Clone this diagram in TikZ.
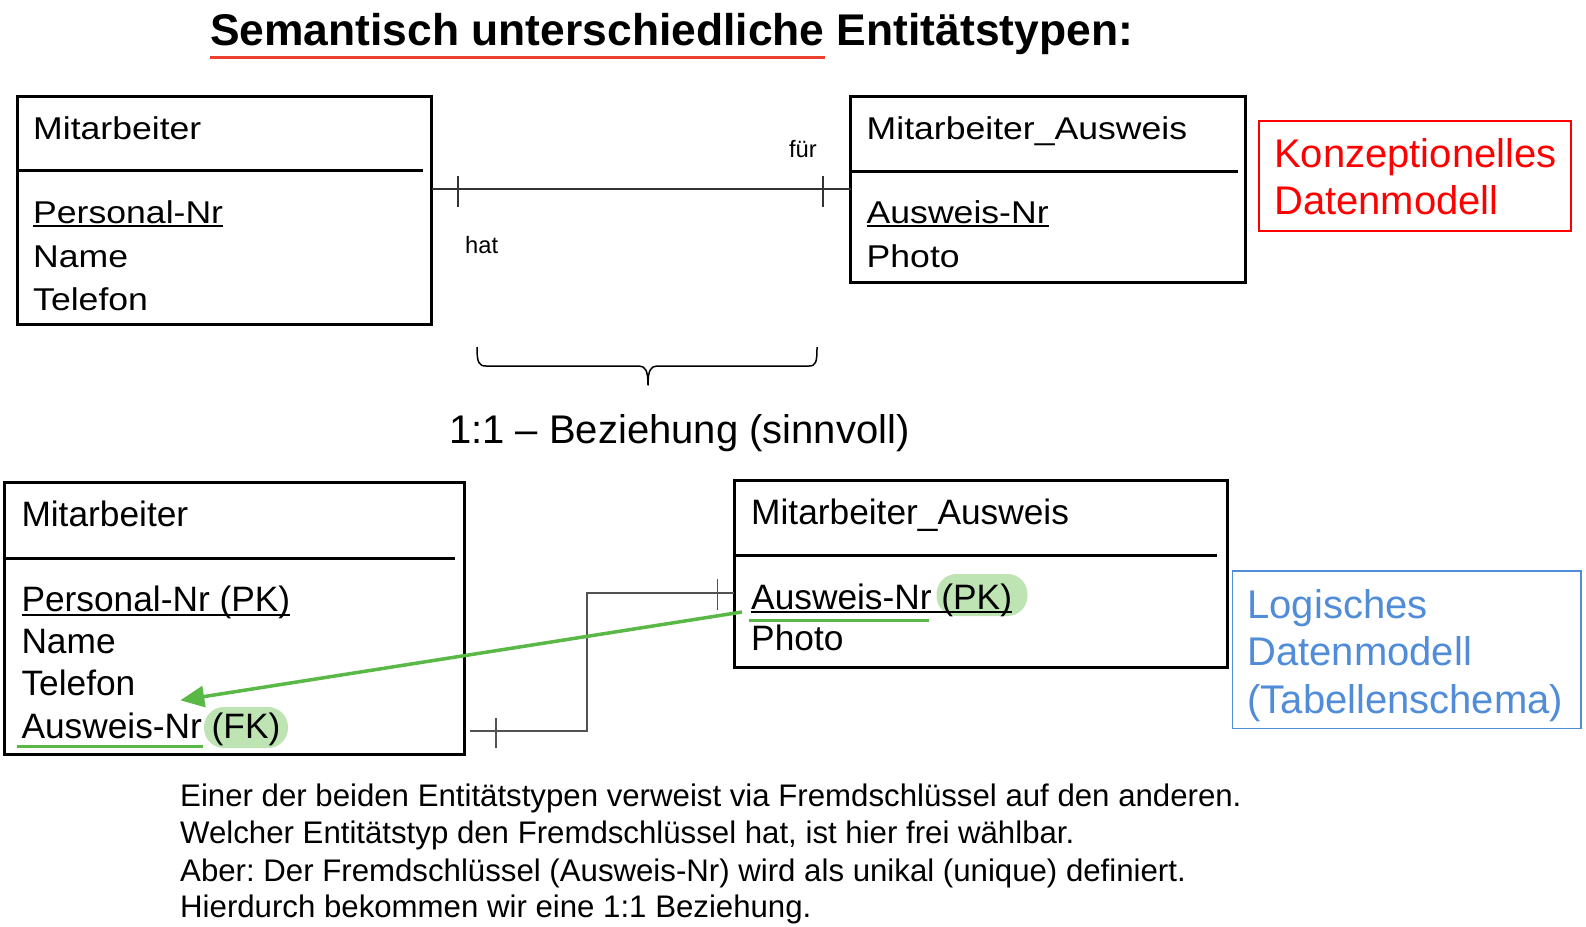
\documentclass[tikz,border=0pt]{standalone}
\usepackage{fontspec}
\setmainfont{Liberation Sans}
\newfontfamily\widefont{Liberation Sans}[FakeStretch=1.13]
\usetikzlibrary{arrows.meta,calc}

\definecolor{titlered}{RGB}{236,64,48}
\definecolor{labelred}{RGB}{255,0,0}
\definecolor{labelblue}{RGB}{80,140,215}
\definecolor{keygreen}{RGB}{90,185,70}
\definecolor{pillgreen}{RGB}{190,228,180}

% underline for key attributes, just below the baseline
\newcommand\keyul[1]{\setbox0\hbox{#1}\rlap{\rule[-3.8pt]{\wd0}{2pt}}\box0\relax}
% red underline in the heading
\newcommand\headul[1]{\setbox0\hbox{#1}\rlap{\color{titlered}\rule[-13pt]{\wd0}{3pt}}\box0\relax}

\begin{document}
\frenchspacing
\begin{tikzpicture}[x=1pt,y=-1pt,
  entity/.style={draw, line width=3pt, inner sep=0pt, outer sep=0pt, anchor=north west},
  divider/.style={line width=3pt},
  toptxt/.style={anchor=base west, inner sep=0pt, font=\widefont\fontsize{31.5}{38}\selectfont},
  lowtxt/.style={anchor=base west, inner sep=0pt, font=\fontsize{35.3}{42}\selectfont},
  roletxt/.style={inner sep=0pt, font=\fontsize{23.7}{28}\selectfont},
  conn/.style={draw=black!80, line width=1.4pt},
  link/.style={draw=black!68, line width=1.4pt},
  pill/.style={fill=pillgreen, draw=none, rounded corners=20pt, inner sep=0pt},
  fkarrow/.style={draw=keygreen, line width=3.5pt, -{Triangle[length=24pt,width=21pt]}},
  greenul/.style={draw=keygreen, line width=3pt},
  modelbox/.style={line width=1.5pt, inner sep=0pt, anchor=north west},
  modeltxt/.style={anchor=base west, inner sep=0pt, font=\fontsize{40}{47}\selectfont},
  notetxt/.style={anchor=base west, inner sep=0pt, font=\fontsize{31.2}{37}\selectfont}
]
\fill[white] (0,0) rectangle (1586,926);
\useasboundingbox (0,0) rectangle (1586,926);

% heading
\node[anchor=base west, inner sep=0pt, font=\bfseries\fontsize{44.4}{52}\selectfont] (head) at (210,45.7)
  {\headul{Semantisch unterschiedliche} Entitätstypen:};

% ---------- conceptual model ----------
\node[entity, minimum width=414, minimum height=228] (ma) at (17.5,96.5) {};
\draw[divider] (ma.north west) ++(0,74.2) -- ++(405.5,0);
\node[toptxt] (maname) at (33,139) {Mitarbeiter};
\node[toptxt] (mapk) at (33,223) {\keyul{Personal-Nr}};
\node[toptxt] (maname2) at (33,267) {Name};
\node[toptxt] (matel) at (33,310) {Telefon};

\node[entity, minimum width=395, minimum height=186] (mau) at (850.5,96.5) {};
\draw[divider] (mau.north west) ++(0,74.5) -- ++(387.5,0);
\node[toptxt] (mauname) at (866.5,139) {Mitarbeiter\_Ausweis};
\node[toptxt] (maupk) at (866.5,223) {\keyul{Ausweis-Nr}};
\node[toptxt] (mauphoto) at (866.5,267) {Photo};

% 1:1 relationship line with bars
\draw[conn] (ma.north east) ++(0,92.5) coordinate (r1) -- (r1 -| mau.west) coordinate (r2);
\draw[conn] ($(r1)+(26.5,-13)$) -- ++(0,31);
\draw[conn] ($(r2)+(-27.5,-13)$) -- ++(0,31);
\node[roletxt, anchor=base west] (hat) at (465,253) {hat};
\node[roletxt, anchor=base east] (fuer) at (817,157) {für};

% brace and caption
\draw[line width=1.5pt, line join=round]
  (477,347) .. controls (477,362) and (478.5,366) .. (486,366) -- (639,366)
  .. controls (645.5,366) and (648,371) .. (648,385)
  .. controls (648,371) and (650.5,366) .. (657,366) -- (809,366)
  .. controls (816,366) and (817,362) .. (817,347);
\node[anchor=base west, inner sep=0pt, font=\fontsize{40}{47}\selectfont] (card) at (449,443)
  {1:1 – Beziehung (sinnvoll)};

% conceptual label
\node[modelbox, draw=labelred, minimum width=312, minimum height=110] (konz) at (1258,120) {};
\node[modeltxt, text=labelred] (konz1) at (1274,167) {Konzeptionelles};
\node[modeltxt, text=labelred] (konz2) at (1274,214) {Datenmodell};

% ---------- logical model ----------
\node[entity, minimum width=460, minimum height=271.5] (ml) at (4.5,482.5) {};
\draw[divider] (ml.north west) ++(0,75.8) -- ++(450.5,0);
\node[pill, minimum width=84, minimum height=41] (fkpill) at (246,727.5) {};
\node[lowtxt] (mlname) at (21.3,526) {Mitarbeiter};
\node[lowtxt] (mlpk) at (21.3,611.7) {\keyul{Personal-Nr (PK)}};
\node[lowtxt] (mlname2) at (21.3,653.3) {Name};
\node[lowtxt] (mltel) at (21.3,695) {Telefon};
\node[lowtxt] (mlfk) at (21.3,738.3) {Ausweis-Nr (FK)};
\draw[greenul] ($(mlfk.base west)+(-4,7.7)$) -- ++(186,0);

\node[entity, minimum width=493, minimum height=187] (mal) at (734.2,480) {};
\draw[divider] (mal.north west) ++(0,75) -- ++(482.5,0);
\node[pill, minimum width=91, minimum height=42] (pkpill) at (982,595) {};
\node[lowtxt] (malname) at (751,524) {Mitarbeiter\_Ausweis};
\node[lowtxt] (malpk) at (751,609) {\keyul{Ausweis-Nr (PK)}};
\node[lowtxt] (malphoto) at (751,650) {Photo};
\draw[greenul] ($(malpk.base west)+(-2,11.7)$) -- ++(180,0);

% foreign key reference
\coordinate (b1) at ($(ml.north east)+(5.5,248.5)$);
\coordinate (b2) at ($(mal.north west)+(0,113)$);
\draw[link] (b1) -- ++(117,0) |- (b2);
\draw[link] ($(b1)+(26,-13)$) -- ++(0,30);
\draw[link] ($(b2)+(-17,-14)$) -- ++(0,31);

\coordinate (pkfrom) at ($(malpk.base west)+(-9,3)$);
\coordinate (fkto) at ($(mlfk.base west)+(159,-38)$);
\draw[fkarrow] (pkfrom) -- (fkto);

% logical label
\node[modelbox, draw=labelblue, minimum width=348.6, minimum height=157.4] (logi) at (1231.7,570.2) {};
\node[modeltxt, text=labelblue] (logi1) at (1247.2,618) {Logisches};
\node[modeltxt, text=labelblue] (logi2) at (1247.2,665.5) {Datenmodell};
\node[modeltxt, text=labelblue] (logi3) at (1247.2,713) {(Tabellenschema)};

% explanatory note
\node[notetxt] (n1) at (180,806) {Einer der beiden Entitätstypen verweist via Fremdschlüssel auf den anderen.};
\node[notetxt] (n2) at (180,843.5) {Welcher Entitätstyp den Fremdschlüssel hat, ist hier frei wählbar.};
\node[notetxt] (n3) at (180,881) {Aber: Der Fremdschlüssel (Ausweis-Nr) wird als unikal (unique) definiert.};
\node[notetxt] (n4) at (180,917.5) {Hierdurch bekommen wir eine 1:1 Beziehung.};
\end{tikzpicture}
\end{document}
